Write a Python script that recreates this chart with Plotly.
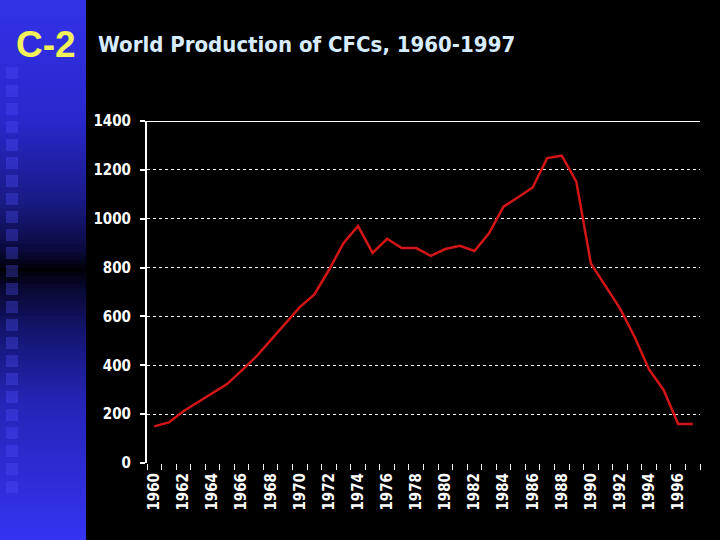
import plotly.graph_objects as go

years = list(range(1960, 1998))
production = [150, 166, 212, 250, 285, 323, 378, 435, 503, 572,
              638, 690, 790, 900, 970, 860, 918, 880, 880, 848,
              876, 889, 868, 940, 1049, 1088, 1128, 1248, 1258, 1152,
              817, 725, 633, 517, 383, 299, 160, 160]
x_tick_years = list(range(1960, 1997, 2))
y_ticks = [0, 200, 400, 600, 800, 1000, 1200, 1400]

W, H = 720, 540
L, R, T, B = 147, 20, 121, 77
PW, PH = W - L - R, H - T - B

NARROW = "Liberation Sans Narrow, DejaVu Sans Condensed, Arial Narrow, sans-serif"
TICKFONT = dict(family=NARROW, size=15, color="white", weight="bold")

fig = go.Figure()
fig.add_trace(go.Scatter(x=years, y=production, mode="lines",
                         line=dict(color="#d41515", width=2.5), hoverinfo="x+y"))

shapes = []
# left gradient strip (decoration)
stops = [(0, (50, 50, 232)), (120, (40, 40, 205)), (200, (26, 26, 135)), (250, (10, 10, 62)),
         (270, (0, 0, 6)), (288, (8, 8, 50)), (330, (20, 20, 110)), (400, (36, 36, 182)),
         (540, (52, 52, 242))]

def col(py):
    for (a, ca), (b, cb) in zip(stops, stops[1:]):
        if a <= py <= b:
            t = (py - a) / (b - a)
            c = [round(ca[i] + (cb[i] - ca[i]) * t) for i in range(3)]
            return "rgb(%d,%d,%d)" % tuple(c)
    return "rgb(52,52,242)"

step = 4
for py in range(0, H, step):
    shapes.append(dict(type="rect", xref="paper", yref="paper", xsizemode="pixel", ysizemode="pixel",
                       xanchor=0, yanchor=1, x0=-L, x1=-L + 86, y0=T - py, y1=T - py - step - 0.5,
                       fillcolor=col(py + step / 2), line=dict(width=0), layer="below"))
for k in range(24):
    sy = 67 + 18 * k
    shapes.append(dict(type="rect", xref="paper", yref="paper", xsizemode="pixel", ysizemode="pixel",
                       xanchor=0, yanchor=1, x0=-L + 6, x1=-L + 18, y0=T - sy, y1=T - sy - 12,
                       fillcolor="rgba(80,80,255,0.32)", line=dict(width=0), layer="below"))
# solid top border line at 1400
shapes.append(dict(type="line", xref="paper", yref="y", x0=-5 / PW, x1=1, y0=1400, y1=1400,
                   line=dict(color="white", width=2)))

fig.update_layout(
    width=W, height=H,
    margin=dict(l=L, r=R, t=T, b=B),
    paper_bgcolor="black", plot_bgcolor="black",
    showlegend=False,
    shapes=shapes,
    xaxis=dict(range=[1959.5, 1997.5], tickmode="array", tickvals=x_tick_years,
               ticktext=[str(y) for y in x_tick_years], tickangle=-90, ticks="",
               showgrid=False, zeroline=False, showline=False, tickfont=TICKFONT,
               ticklabelstandoff=6,
               minor=dict(ticks="outside", tick0=1959.5, dtick=1, ticklen=6,
                          tickcolor="white", tickwidth=1, showgrid=False)),
    yaxis=dict(range=[0, 1400], tickmode="array", tickvals=y_ticks, ticks="outside", ticklen=5,
               tickcolor="white", tickwidth=2, showline=True, linecolor="white", linewidth=2,
               showgrid=True, gridcolor="white", griddash="dot", gridwidth=1,
               zeroline=False, tickfont=TICKFONT, ticklabelstandoff=6),
    annotations=[
        dict(text="C-2", xref="paper", yref="paper", x=(14 - L) / PW, y=(H - B - 45) / PH,
             xanchor="left", yanchor="middle", showarrow=False,
             font=dict(family="Liberation Sans, Arial, sans-serif", size=37, color="#f2f25a",
                       weight="bold")),
        dict(text="World Production of CFCs, 1960-1997", xref="paper", yref="paper",
             x=(96 - L) / PW, y=(H - B - 45) / PH, xanchor="left", yanchor="middle",
             showarrow=False,
             font=dict(family=NARROW, size=22, color="#d8ecff", weight="bold")),
    ],
)

fig.write_html("out.html", config={"displayModeBar": False},
               post_script="document.body.style.margin='0';document.body.style.background='black';")
